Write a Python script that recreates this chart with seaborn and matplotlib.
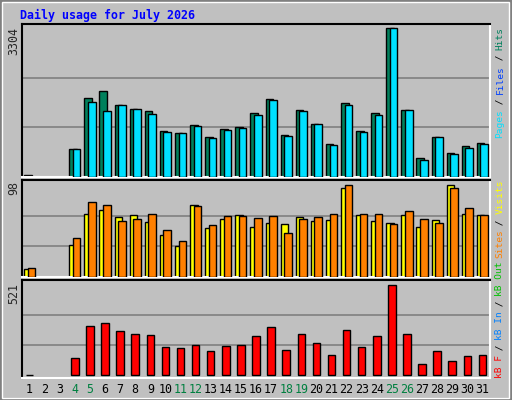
import matplotlib
matplotlib.use("Agg")
import matplotlib.pyplot as plt
import numpy as np
import seaborn as sns
from matplotlib.patches import Rectangle

sns.set_style("white")
plt.rcParams["font.family"] = ["DejaVu Sans Mono"]

days = list(range(1, 32))
weekend_days = [4, 5, 11, 12, 18, 19, 25, 26]
hits = [40, 0, 0, 625, 1757, 1913, 1600, 1511, 1466, 1020, 975, 1154, 886, 1065, 1109, 1422,
        1735, 931, 1489, 1176, 730, 1645, 1020, 1422, 3304, 1489, 417, 886, 529, 685, 752]
pages = [0, 0, 0, 625, 1674, 1473, 1600, 1511, 1400, 998, 975, 1131, 864, 1042, 1087, 1377,
         1712, 909, 1466, 1176, 708, 1600, 998, 1377, 3304, 1489, 373, 886, 507, 641, 730]
visits = [9, 0, 0, 34, 67, 71, 64, 66, 58, 45, 33, 76, 52, 62, 66, 53,
          57, 56, 64, 59, 60, 94, 66, 59, 57, 66, 53, 60, 98, 67, 66]
sites = [10, 0, 0, 41, 80, 76, 59, 62, 67, 50, 38, 75, 55, 65, 65, 63,
         65, 47, 62, 64, 67, 98, 67, 67, 56, 70, 62, 57, 94, 73, 66]
kbytes = [5, 0, 0, 97, 281, 303, 252, 240, 229, 160, 155, 177, 137, 166, 172, 223,
          275, 143, 235, 183, 115, 263, 160, 223, 521, 235, 63, 137, 80, 109, 115]

BG = "#C0C0C0"
W, H = 512, 400
fig = plt.figure(figsize=(5.12, 4.0), dpi=100, facecolor=BG)
fig.patches.append(Rectangle((0, 0), 1, 1, transform=fig.transFigure, fill=False,
                             edgecolor="#808080", linewidth=3))
fig.patches.append(Rectangle((0.003, 0.006), 0.992, 0.99, transform=fig.transFigure, fill=False,
                             edgecolor="white", linewidth=1))


def axes_px(x0, y0, x1, y1):
    return fig.add_axes([x0 / W, 1 - y1 / H, (x1 - x0) / W, (y1 - y0) / H])


def style(ax, lim, grid):
    ax.set_facecolor(BG)
    ax.set_xlim(0.5, 31.5)
    ax.set_ylim(*lim)
    for g in grid:
        ax.axhline(g, color="#808080", linewidth=1.2, zorder=0)
    for s in ["top", "left"]:
        ax.spines[s].set_color("black")
    for s in ["bottom", "right"]:
        ax.spines[s].set_color("white")
    for s in ax.spines.values():
        s.set_linewidth(1.5)
    ax.set_xticks([])
    ax.set_yticks([])


def bars(ax, x, vals, color, width, z):
    vals = np.array(vals, dtype=float)
    keep = vals > 0
    ax.bar(np.asarray(x, dtype=float)[keep], vals[keep], width=width, color=color,
           edgecolor="black", linewidth=1, zorder=z)


def pair(ax, a, b, ca, cb):
    x = np.array(days, dtype=float)
    bars(ax, x - 0.12, a, ca, 0.5, 2)
    bars(ax, x + 0.12, b, cb, 0.5, 3)


ax1 = axes_px(22, 24, 490, 177)
style(ax1, (0, 3393), [1101, 2203])
pair(ax1, hits, pages, "#00805C", "#00E0FF")

ax2 = axes_px(22, 180, 490, 277)
style(ax2, (0, 103), [33, 65])
pair(ax2, visits, sites, "#FFFF00", "#FF8000")

ax3 = axes_px(22, 280, 490, 378)
style(ax3, (-15, 547), [174, 347])
bars(ax3, days, kbytes, "#FF0000", 0.5, 2)

for d in days:
    ax3.text(d, -0.12, str(d), transform=ax3.get_xaxis_transform(), ha="center", va="center",
             fontsize=8.4, color="#008040" if d in weekend_days else "black")

fig.text(20 / W, 1 - 15 / H, "Daily usage for July 2026", color="#0000FF", fontsize=8.4,
         fontweight="bold", ha="left", va="center")

for label, ytop in [("3304", 27), ("98", 181), ("521", 283)]:
    fig.text(14 / W, 1 - ytop / H, label, rotation=90, ha="center", va="top", fontsize=8.4)

CW = 5.5


def vlabel(y_bottom, parts):
    y = y_bottom
    for txt, col in parts:
        fig.text(500 / W, 1 - y / H, txt, rotation=90, ha="center", va="bottom",
                 fontsize=6.8, color=col)
        y -= CW * len(txt)


vlabel(138, [("Pages", "#00E0FF"), (" / ", "black"), ("Files", "#0040FF"),
             (" / ", "black"), ("Hits", "#00805C")])
vlabel(258, [("Sites", "#FF8000"), (" / ", "black"), ("Visits", "#FFFF00")])
vlabel(378, [("kB F", "#FF0000"), (" / ", "black"), ("kB In", "#0080FF"),
             (" / ", "black"), ("kB Out", "#00C000")])

fig.savefig("out.png", dpi=100, facecolor=BG)
